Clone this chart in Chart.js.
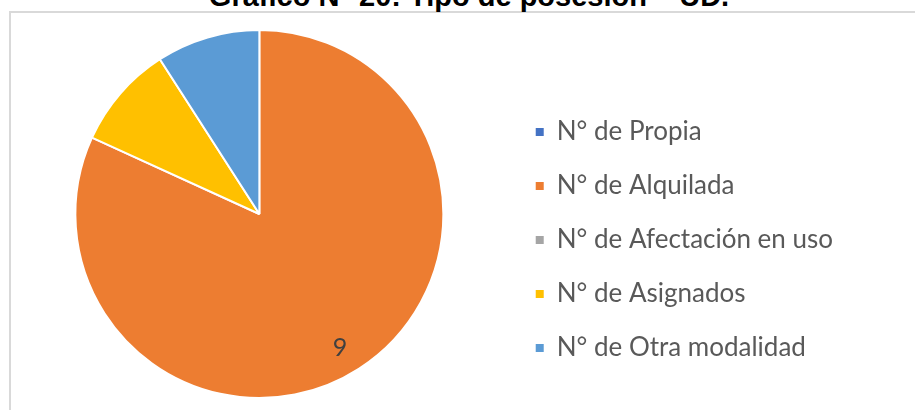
<!DOCTYPE html>
<html>
<head>
<meta charset="utf-8">
<script src="https://cdn.jsdelivr.net/npm/chart.js@4"></script>
<style>
    html, body { margin: 0; padding: 0; background: #fff; overflow: hidden; }
    #wrap { position: relative; width: 915px; height: 410px; }
    #frame {
        position: absolute; left: 9px; top: 11px; right: -10px; bottom: -10px;
        border-left: 2px solid #d9d9d9; border-top: 2px solid #d9d9d9;
    }
    #title {
        position: absolute; left: 0; width: 938px; top: -18px;
        text-align: center; font: bold 29px "Liberation Sans", Arial, sans-serif;
        line-height: 29px; color: #000; white-space: nowrap;
    }
    #box { position: absolute; left: 0; top: 0; width: 915px; height: 410px; }
</style>
</head>
<body>
<div id="wrap">
    <div id="frame"></div>
    <div id="title">Gráfico N° 20: Tipo de posesión – UD.</div>
    <div id="box"><canvas id="posesionPie"></canvas></div>
</div>
<script>
// categories and values
const categories = [
    "N° de Propia",
    "N° de Alquilada",
    "N° de Afectación en uso",
    "N° de Asignados",
    "N° de Otra modalidad",
];
const cantidades = [0, 9, 0, 1, 1];
// only the big slice carries a value label in the original
const showValue = [false, true, false, false, false];
const colores = ["#4472C4", "#ED7D31", "#A5A5A5", "#FFC000", "#5B9BD5"];

// writes the value inside the slice, like the excel label
const valueLabels = {
    id: "valueLabels",
    afterDatasetsDraw(chart) {
        const ctx = chart.ctx;
        const meta = chart.getDatasetMeta(0);
        ctx.save();
        ctx.font = "25px Lato";
        ctx.fillStyle = "#404040";
        ctx.textAlign = "center";
        ctx.textBaseline = "middle";
        meta.data.forEach((arc, i) => {
            if (!showValue[i]) return;
            const p = arc.getProps(["x", "y", "startAngle", "endAngle", "outerRadius"], true);
            const mid = (p.startAngle + p.endAngle) / 2 + 0.03;
            const r = p.outerRadius * 0.85;
            ctx.fillText(String(cantidades[i]), p.x + Math.cos(mid) * r, p.y + Math.sin(mid) * r);
        });
        ctx.restore();
    },
};

const config = {
    type: "pie",
    data: {
        labels: categories,
        datasets: [
            {
                data: cantidades,
                backgroundColor: colores,
                borderColor: "#ffffff",
                borderWidth: 2,
            },
        ],
    },
    options: {
        responsive: true,
        maintainAspectRatio: false,
        animation: false,
        layout: {
            padding: { left: 11, top: 29, bottom: 11, right: 72 },
        },
        plugins: {
            tooltip: { enabled: false },
            legend: {
                position: "right",
                align: "center",
                // empty title only pushes the list down
                title: {
                    display: true,
                    text: "",
                    font: { size: 10, lineHeight: 1 },
                    padding: { top: 42, bottom: 0 },
                },
                labels: {
                    boxWidth: 8,
                    boxHeight: 8,
                    padding: 28,
                    color: "#595959",
                    font: { family: "Lato", size: 26 },
                    generateLabels(chart) {
                        const items = Chart.overrides.pie.plugins.legend.labels.generateLabels(chart);
                        items.forEach((it) => { it.lineWidth = 0; });
                        return items;
                    },
                },
            },
        },
    },
    plugins: [valueLabels],
};

new Chart(document.getElementById("posesionPie"), config);
</script>
</body>
</html>
